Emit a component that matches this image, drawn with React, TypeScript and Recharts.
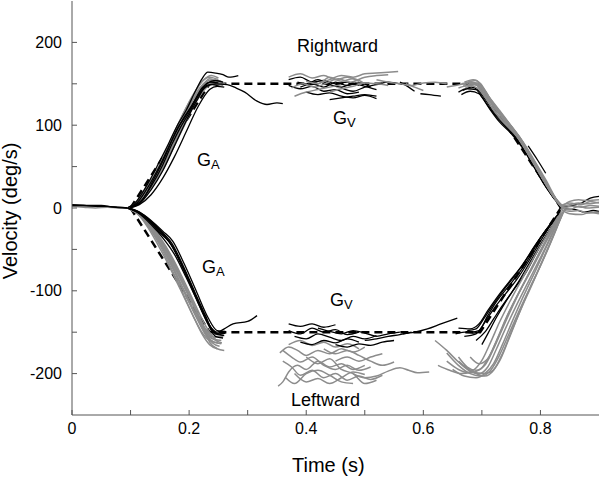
import { LineChart, Line, XAxis, YAxis } from 'recharts';

type Trace = [number, number][];

const xTicks = [0, 0.1, 0.2, 0.3, 0.4, 0.5, 0.6, 0.7, 0.8];
const yTicks = [-200, -150, -100, -50, 0, 50, 100, 150, 200];

// baseline before target onset
const preGray: Trace[] = [
  [[0, 2], [0.02, 1], [0.04, 0], [0.06, 1], [0.08, 0], [0.095, 0]],
  [[0, 3], [0.03, 2], [0.05, 2], [0.07, 1], [0.095, 0]],
];
const preBlack: Trace[] = [
  [[0, 3], [0.02, 3], [0.04, 2], [0.06, 2], [0.08, 1], [0.095, 0]],
  [[0, 4], [0.03, 3], [0.05, 3], [0.07, 1], [0.095, 0]],
];

// rightward, acceleration (G_A)
const rightAccelGray: Trace[] = [
  [[0.095, 0], [0.11, 6], [0.13, 25], [0.15, 48], [0.17, 78], [0.19, 108], [0.21, 135], [0.225, 150], [0.235, 156], [0.25, 152], [0.262, 150]],
  [[0.095, 0], [0.11, 5], [0.13, 22], [0.15, 44], [0.17, 72], [0.19, 102], [0.21, 130], [0.228, 148], [0.24, 152], [0.255, 150]],
  [[0.095, 0], [0.11, 7], [0.13, 28], [0.15, 52], [0.17, 84], [0.19, 114], [0.21, 140], [0.222, 153], [0.235, 158], [0.25, 155]],
  [[0.095, 0], [0.115, 8], [0.135, 30], [0.155, 56], [0.175, 88], [0.195, 116], [0.215, 142], [0.23, 152], [0.245, 150], [0.258, 148]],
  [[0.095, 0], [0.11, 4], [0.13, 20], [0.15, 40], [0.17, 68], [0.19, 97], [0.21, 126], [0.23, 146], [0.245, 153], [0.26, 151]],
  [[0.095, 0], [0.115, 7], [0.135, 27], [0.155, 51], [0.175, 80], [0.195, 110], [0.215, 137], [0.232, 150], [0.25, 149]],
  [[0.095, 0], [0.112, 6], [0.132, 26], [0.152, 50], [0.172, 80], [0.192, 110], [0.212, 137], [0.228, 152], [0.24, 155], [0.255, 153]],
  [[0.095, 0], [0.113, 5], [0.133, 23], [0.153, 46], [0.173, 74], [0.193, 104], [0.213, 133], [0.23, 149], [0.243, 151], [0.258, 149]],
  [[0.095, 0], [0.108, 5], [0.128, 24], [0.148, 49], [0.168, 80], [0.188, 111], [0.208, 138], [0.224, 154], [0.238, 160], [0.25, 157]],
];
const rightAccelBlack: Trace[] = [
  [[0.095, 0], [0.11, 8], [0.13, 30], [0.15, 57], [0.165, 78], [0.18, 100], [0.195, 118], [0.21, 140], [0.222, 156], [0.232, 164], [0.245, 163], [0.258, 161], [0.268, 158], [0.284, 160]],
  [[0.095, 0], [0.115, 5], [0.135, 22], [0.155, 45], [0.175, 75], [0.195, 105], [0.215, 132], [0.23, 148], [0.245, 150], [0.265, 149], [0.28, 145], [0.295, 140], [0.316, 129], [0.333, 125], [0.35, 127], [0.36, 126]],
  [[0.095, 0], [0.115, 4], [0.135, 16], [0.155, 36], [0.175, 62], [0.195, 92], [0.215, 122], [0.235, 143], [0.248, 147], [0.26, 146]],
  [[0.095, 0], [0.115, 6], [0.135, 26], [0.155, 52], [0.17, 76], [0.185, 97], [0.2, 115], [0.215, 135], [0.23, 150], [0.245, 154], [0.258, 152]],
  [[0.095, 0], [0.12, 10], [0.14, 35], [0.16, 64], [0.18, 96], [0.195, 112], [0.21, 130], [0.228, 146], [0.24, 149], [0.252, 147]],
  [[0.095, 0], [0.112, 7], [0.132, 28], [0.152, 54], [0.172, 84], [0.19, 108], [0.205, 124], [0.222, 145], [0.236, 152], [0.25, 151]],
];

// rightward, visual steady state (G_V)
const rightVisGray: Trace[] = [
  [[0.37, 158], [0.39, 162], [0.41, 157], [0.43, 160], [0.45, 155], [0.47, 158], [0.49, 153]],
  [[0.42, 150], [0.44, 155], [0.46, 160], [0.48, 158], [0.5, 162], [0.52, 163], [0.54, 164], [0.557, 165]],
  [[0.375, 145], [0.395, 150], [0.415, 146], [0.435, 151], [0.455, 156], [0.475, 152], [0.5, 158], [0.52, 160], [0.54, 161]],
  [[0.44, 140], [0.46, 144], [0.48, 147], [0.5, 151], [0.52, 150], [0.54, 148]],
  [[0.38, 135], [0.4, 140], [0.42, 143], [0.44, 146], [0.46, 149]],
  [[0.4, 153], [0.42, 150], [0.44, 158], [0.46, 153], [0.48, 156], [0.5, 150]],
  [[0.52, 155], [0.54, 152], [0.56, 150], [0.58, 148], [0.6, 151], [0.62, 152], [0.64, 150]],
  [[0.57, 150], [0.585, 146], [0.6, 142]],
  [[0.64, 146], [0.655, 148], [0.67, 150]],
];
const rightVisBlack: Trace[] = [
  [[0.37, 148], [0.39, 144], [0.41, 147], [0.43, 141], [0.45, 143], [0.47, 138], [0.49, 140]],
  [[0.385, 152], [0.4, 150], [0.42, 155], [0.44, 149], [0.46, 146], [0.48, 150], [0.5, 147], [0.52, 143]],
  [[0.4, 140], [0.42, 137], [0.44, 139], [0.46, 135], [0.48, 133], [0.5, 136], [0.52, 132]],
  [[0.44, 131], [0.46, 133], [0.48, 135], [0.5, 137], [0.52, 135]],
  [[0.37, 155], [0.39, 158], [0.41, 152], [0.43, 154], [0.45, 150], [0.47, 152], [0.49, 148]],
  [[0.39, 146], [0.41, 150], [0.43, 146], [0.45, 152], [0.47, 148], [0.49, 151], [0.51, 146]],
  [[0.46, 145], [0.48, 141], [0.5, 146], [0.52, 149], [0.54, 152], [0.56, 150]],
  [[0.56, 152], [0.575, 146], [0.585, 141]],
  [[0.595, 138], [0.61, 137], [0.63, 135]],
];

// rightward, deceleration
const rightDecelBlack: Trace[] = [
  [[0.66, 140], [0.675, 144], [0.69, 143], [0.7, 134], [0.715, 118], [0.73, 104], [0.75, 90], [0.77, 72], [0.79, 48], [0.81, 25], [0.83, 5]],
  [[0.665, 137], [0.68, 141], [0.695, 138], [0.71, 124], [0.725, 110], [0.745, 95], [0.765, 78], [0.785, 55], [0.805, 30], [0.825, 10]],
  [[0.668, 142], [0.682, 146], [0.694, 142], [0.707, 130], [0.72, 116], [0.738, 102], [0.758, 86], [0.778, 66], [0.798, 42], [0.818, 20], [0.833, 4]],
  [[0.779, 75], [0.795, 58], [0.809, 42]],
];
const rightDecelGray: Trace[] = [
  [[0.665, 150], [0.68, 152], [0.69, 150], [0.7, 140], [0.715, 124], [0.73, 110], [0.75, 96], [0.77, 76], [0.79, 52], [0.81, 28], [0.825, 12], [0.838, 2]],
  [[0.67, 147], [0.685, 150], [0.695, 146], [0.71, 132], [0.725, 117], [0.745, 100], [0.765, 82], [0.785, 58], [0.805, 34], [0.822, 14], [0.836, 1]],
  [[0.675, 152], [0.69, 154], [0.7, 146], [0.715, 128], [0.735, 111], [0.755, 92], [0.775, 70], [0.795, 46], [0.815, 22], [0.83, 6], [0.84, 0]],
  [[0.66, 145], [0.678, 148], [0.692, 145], [0.705, 134], [0.72, 118], [0.74, 101], [0.76, 86], [0.78, 64], [0.8, 40], [0.82, 17], [0.835, 2]],
  [[0.68, 150], [0.695, 148], [0.71, 136], [0.73, 118], [0.75, 99], [0.77, 80], [0.79, 57], [0.81, 33], [0.828, 10], [0.84, 1]],
  [[0.67, 152], [0.685, 155], [0.698, 150], [0.712, 134], [0.728, 118], [0.748, 101], [0.768, 82], [0.788, 58], [0.808, 33], [0.825, 12], [0.838, 1]],
  [[0.672, 145], [0.688, 149], [0.7, 144], [0.714, 130], [0.73, 114], [0.75, 97], [0.77, 78], [0.79, 54], [0.81, 30], [0.826, 11], [0.837, 2]],
  [[0.668, 148], [0.683, 152], [0.696, 149], [0.708, 137], [0.724, 120], [0.742, 104], [0.762, 88], [0.782, 64], [0.802, 38], [0.82, 17], [0.834, 3]],
  [[0.678, 150], [0.692, 151], [0.704, 143], [0.718, 128], [0.734, 113], [0.754, 95], [0.774, 74], [0.794, 50], [0.813, 26], [0.829, 8], [0.84, 0]],
];

// leftward, acceleration (G_A)
const leftAccelGray: Trace[] = [
  [[0.095, 0], [0.11, -5], [0.13, -18], [0.15, -38], [0.17, -62], [0.19, -92], [0.21, -122], [0.225, -146], [0.235, -162], [0.248, -170], [0.26, -172]],
  [[0.095, 0], [0.11, -6], [0.13, -20], [0.15, -42], [0.17, -68], [0.19, -98], [0.21, -127], [0.225, -148], [0.24, -158], [0.255, -160]],
  [[0.095, 0], [0.115, -8], [0.135, -25], [0.155, -48], [0.175, -76], [0.195, -105], [0.215, -133], [0.23, -150], [0.245, -156], [0.258, -155]],
  [[0.095, 0], [0.11, -4], [0.13, -16], [0.15, -35], [0.17, -58], [0.19, -86], [0.21, -116], [0.228, -142], [0.24, -155], [0.25, -162]],
  [[0.095, 0], [0.115, -7], [0.135, -22], [0.155, -45], [0.175, -72], [0.195, -100], [0.215, -128], [0.232, -152], [0.245, -160], [0.256, -163]],
  [[0.095, 0], [0.112, -6], [0.132, -19], [0.152, -40], [0.172, -65], [0.192, -95], [0.212, -125], [0.228, -150], [0.24, -163], [0.252, -167]],
  [[0.095, 0], [0.113, -7], [0.133, -23], [0.153, -46], [0.173, -74], [0.193, -104], [0.213, -133], [0.23, -155], [0.243, -162], [0.255, -164]],
  [[0.095, 0], [0.11, -5], [0.13, -17], [0.15, -37], [0.17, -60], [0.19, -89], [0.21, -119], [0.226, -144], [0.238, -152], [0.25, -153]],
  [[0.095, 0], [0.11, -6], [0.13, -22], [0.15, -45], [0.165, -66], [0.18, -88], [0.195, -112], [0.21, -135], [0.222, -152], [0.235, -165], [0.248, -170]],
  [[0.095, 0], [0.112, -7], [0.13, -24], [0.148, -46], [0.163, -66], [0.178, -88], [0.193, -110], [0.208, -132], [0.22, -148], [0.235, -160], [0.25, -163]],
];
const leftAccelBlack: Trace[] = [
  [[0.095, 0], [0.11, -4], [0.13, -14], [0.15, -30], [0.165, -40], [0.18, -58], [0.2, -88], [0.22, -120], [0.235, -142], [0.248, -150], [0.26, -146], [0.275, -140], [0.3, -137], [0.316, -130]],
  [[0.095, 0], [0.115, -6], [0.135, -18], [0.155, -32], [0.17, -45], [0.185, -65], [0.205, -95], [0.225, -128], [0.24, -147], [0.252, -152], [0.262, -151]],
  [[0.095, 0], [0.115, -5], [0.135, -16], [0.155, -30], [0.17, -42], [0.19, -70], [0.21, -102], [0.228, -130], [0.242, -150], [0.255, -153]],
  [[0.095, 0], [0.115, -7], [0.135, -20], [0.155, -36], [0.175, -56], [0.195, -84], [0.215, -114], [0.232, -140], [0.245, -155], [0.258, -157]],
  [[0.095, 0], [0.115, -6], [0.135, -17], [0.155, -31], [0.172, -47], [0.19, -74], [0.21, -106], [0.23, -136], [0.245, -152], [0.26, -154]],
  [[0.095, 0], [0.115, -5], [0.135, -15], [0.155, -28], [0.172, -40], [0.192, -68], [0.212, -100], [0.232, -132], [0.248, -148], [0.262, -149]],
];

// leftward, visual steady state (G_V)
const leftVisGray: Trace[] = [
  [[0.352, -215], [0.36, -210], [0.37, -198], [0.385, -190], [0.4, -195], [0.42, -185], [0.44, -192], [0.46, -188], [0.48, -195], [0.5, -190]],
  [[0.355, -175], [0.37, -168], [0.385, -172], [0.4, -178], [0.42, -172], [0.44, -176], [0.46, -170], [0.48, -174], [0.5, -168]],
  [[0.36, -185], [0.375, -192], [0.39, -202], [0.41, -196], [0.43, -205], [0.45, -200], [0.47, -208], [0.49, -203], [0.51, -207], [0.53, -202]],
  [[0.38, -200], [0.4, -210], [0.42, -206], [0.44, -212], [0.46, -205], [0.48, -198], [0.5, -201]],
  [[0.37, -165], [0.39, -160], [0.41, -166], [0.43, -162], [0.45, -168], [0.47, -164], [0.49, -170]],
  [[0.45, -185], [0.47, -180], [0.49, -185], [0.51, -180], [0.53, -176]],
  [[0.48, -200], [0.5, -205], [0.52, -203], [0.54, -197], [0.56, -193], [0.575, -196], [0.59, -199], [0.61, -198]],
  [[0.4, -180], [0.42, -188], [0.44, -182], [0.46, -195], [0.48, -200], [0.5, -212], [0.52, -208]],
  [[0.36, -172], [0.375, -180], [0.39, -186], [0.41, -180], [0.43, -190], [0.45, -195], [0.47, -190], [0.49, -196], [0.51, -192]],
  [[0.43, -170], [0.45, -176], [0.47, -172], [0.49, -178], [0.51, -185], [0.53, -190], [0.55, -186]],
  [[0.365, -205], [0.38, -212], [0.4, -200], [0.42, -196], [0.44, -202], [0.46, -210], [0.48, -212]],
];
const leftVisBlack: Trace[] = [
  [[0.37, -148], [0.39, -152], [0.41, -145], [0.43, -150], [0.45, -147], [0.47, -153], [0.49, -150]],
  [[0.38, -155], [0.4, -158], [0.42, -152], [0.44, -156], [0.46, -160], [0.48, -155], [0.5, -158], [0.52, -154]],
  [[0.39, -162], [0.41, -165], [0.43, -160], [0.45, -163], [0.47, -158], [0.49, -162]],
  [[0.42, -145], [0.44, -149], [0.46, -152], [0.48, -148], [0.5, -151], [0.52, -155], [0.54, -152], [0.56, -150]],
  [[0.45, -165], [0.47, -168], [0.49, -164], [0.51, -166], [0.53, -162], [0.55, -160]],
  [[0.37, -140], [0.39, -143], [0.41, -140], [0.43, -144], [0.45, -141]],
  [[0.5, -160], [0.52, -158], [0.54, -155], [0.56, -153], [0.58, -150]],
  [[0.565, -152], [0.585, -150], [0.607, -146], [0.63, -140], [0.658, -133]],
  [[0.655, -152], [0.67, -150], [0.685, -151], [0.697, -150]],
];

// leftward, deceleration
const leftDecelBlack: Trace[] = [
  [[0.68, -150], [0.695, -148], [0.71, -130], [0.726, -112], [0.745, -95], [0.766, -76], [0.785, -55], [0.8, -36], [0.818, -20], [0.834, -6]],
  [[0.67, -155], [0.69, -152], [0.705, -138], [0.72, -122], [0.74, -104], [0.76, -86], [0.78, -64], [0.8, -40], [0.82, -18], [0.835, -4]],
  [[0.69, -160], [0.705, -150], [0.72, -134], [0.735, -118], [0.755, -98], [0.775, -78], [0.795, -52], [0.815, -28], [0.832, -8]],
  [[0.7, -165], [0.71, -152], [0.725, -132], [0.74, -114], [0.76, -92], [0.78, -68], [0.8, -44], [0.82, -22]],
  [[0.66, -145], [0.68, -146], [0.695, -140], [0.71, -124], [0.73, -104], [0.75, -86], [0.77, -68], [0.79, -46], [0.81, -26], [0.83, -8]],
  [[0.675, -148], [0.69, -146], [0.703, -134], [0.718, -118], [0.736, -100], [0.756, -82], [0.776, -62], [0.796, -40], [0.816, -20], [0.833, -5]],
];
const leftDecelGray: Trace[] = [
  [[0.62, -160], [0.64, -172], [0.66, -186], [0.68, -197], [0.695, -200], [0.71, -192], [0.725, -170], [0.74, -146], [0.76, -116], [0.78, -88], [0.8, -60], [0.815, -38], [0.83, -15], [0.84, -3]],
  [[0.64, -175], [0.66, -190], [0.68, -200], [0.7, -203], [0.715, -196], [0.73, -178], [0.745, -154], [0.765, -122], [0.785, -92], [0.8, -70], [0.815, -46], [0.828, -24], [0.838, -6]],
  [[0.66, -180], [0.675, -192], [0.69, -196], [0.705, -190], [0.72, -170], [0.735, -146], [0.755, -115], [0.775, -86], [0.795, -58], [0.81, -38], [0.825, -18], [0.836, -4]],
  [[0.65, -195], [0.67, -203], [0.69, -205], [0.705, -200], [0.72, -188], [0.735, -165], [0.75, -140], [0.77, -108], [0.79, -78], [0.805, -55], [0.82, -32], [0.835, -8]],
  [[0.625, -190], [0.645, -196], [0.665, -200], [0.685, -196], [0.7, -184], [0.715, -162], [0.73, -138], [0.75, -110], [0.77, -84], [0.79, -58], [0.81, -34], [0.83, -10]],
  [[0.68, -180], [0.695, -188], [0.71, -182], [0.725, -160], [0.74, -135], [0.76, -106], [0.78, -80], [0.8, -52], [0.82, -26], [0.835, -6]],
  [[0.66, -185], [0.68, -196], [0.7, -200], [0.715, -198], [0.73, -185], [0.745, -160], [0.762, -130], [0.78, -100], [0.797, -74], [0.812, -50], [0.826, -26], [0.838, -6]],
  [[0.67, -190], [0.69, -200], [0.705, -203], [0.72, -196], [0.735, -176], [0.75, -150], [0.768, -120], [0.786, -92], [0.802, -66], [0.817, -42], [0.83, -20], [0.84, -4]],
  [[0.64, -185], [0.66, -195], [0.68, -199], [0.697, -195], [0.712, -180], [0.728, -156], [0.745, -128], [0.765, -100], [0.785, -74], [0.803, -50], [0.82, -27], [0.834, -7]],
];

// after the target stops
const tailGray: Trace[] = [
  [[0.835, 2], [0.85, 4], [0.865, 6], [0.88, 5], [0.9, 7]],
  [[0.838, 0], [0.855, 2], [0.87, 1], [0.885, 3], [0.9, 2]],
  [[0.836, -2], [0.85, -4], [0.865, -3], [0.88, -6], [0.9, -5]],
  [[0.835, 1], [0.85, 8], [0.865, 10], [0.88, 9], [0.9, 10]],
  [[0.834, -1], [0.85, -7], [0.87, -8], [0.885, -5], [0.9, -7]],
  [[0.836, 0], [0.85, -2], [0.865, 2], [0.88, 0], [0.9, 1]],
  [[0.835, 3], [0.85, 6], [0.87, 4], [0.885, 8], [0.9, 6]],
];
const tailBlack: Trace[] = [
  [[0.84, 1], [0.855, 3], [0.87, 6], [0.885, 12], [0.9, 14]],
  [[0.84, -1], [0.86, -2], [0.875, -5], [0.89, -3], [0.9, -4]],
];

// target velocity (dashed)
const targetRight: Trace = [[0.1, 0], [0.235, 150], [0.695, 150], [0.835, 0]];
const targetLeft: Trace = [[0.1, 0], [0.235, -150], [0.697, -150], [0.835, 0]];

const GRAY = '#8c8c8c';
const BLACK = '#000000';
const AXIS = '#555555';
const FONT = '"Liberation Sans", Arial, sans-serif';

const groups: { traces: Trace[]; color: string; dashed?: boolean }[] = [
  { traces: [targetRight, targetLeft], color: BLACK, dashed: true },
  { traces: preGray, color: GRAY },
  { traces: preBlack, color: BLACK },
  { traces: rightAccelGray, color: GRAY },
  { traces: rightAccelBlack, color: BLACK },
  { traces: leftAccelGray, color: GRAY },
  { traces: leftAccelBlack, color: BLACK },
  { traces: rightVisBlack, color: BLACK },
  { traces: rightVisGray, color: GRAY },
  { traces: leftVisGray, color: GRAY },
  { traces: leftVisBlack, color: BLACK },
  { traces: rightDecelBlack, color: BLACK },
  { traces: rightDecelGray, color: GRAY },
  { traces: leftDecelBlack, color: BLACK },
  { traces: leftDecelGray, color: GRAY },
  { traces: tailBlack, color: BLACK },
  { traces: tailGray, color: GRAY },
];

const toRows = (tr: Trace) => tr.map(([t, v]) => ({ t, v }));

const xLabel = (v: number) => (Math.round(v * 10) % 2 === 0 ? String(v) : '');
const yLabel = (v: number) => (v % 100 === 0 ? String(v) : '');

export default function App() {
  let n = 0;
  return (
    <div style={{ position: 'absolute', left: 0, top: 0, width: 600, height: 477, background: '#fff' }}>
      <LineChart width={600} height={477} margin={{ top: 1, right: 1, bottom: 0, left: 0 }}>
        <XAxis
          xAxisId="x"
          type="number"
          dataKey="t"
          domain={[0, 0.9]}
          ticks={xTicks}
          tickFormatter={xLabel}
          allowDataOverflow
          height={62}
          tickSize={-5}
          tickMargin={13}
          stroke={AXIS}
          tick={{ fill: '#000', fontSize: 16, fontFamily: FONT }}
        />
        <XAxis
          xAxisId="top"
          orientation="top"
          type="number"
          domain={[0, 0.9]}
          ticks={xTicks}
          height={0}
          tickSize={-5}
          tick={false}
          stroke={AXIS}
        />
        <YAxis
          yAxisId="y"
          type="number"
          domain={[-250, 250]}
          ticks={yTicks}
          tickFormatter={yLabel}
          allowDataOverflow
          width={72}
          tickSize={-5}
          tickMargin={15}
          stroke={AXIS}
          tick={{ fill: '#000', fontSize: 16, fontFamily: FONT }}
        />
        <YAxis
          yAxisId="right"
          orientation="right"
          type="number"
          domain={[-250, 250]}
          ticks={yTicks}
          width={0}
          tickSize={-5}
          tick={false}
          stroke={AXIS}
        />
        {groups.flatMap((g) =>
          g.traces.map((tr) => {
            n += 1;
            return (
              <Line
                key={'s' + n}
                xAxisId="x"
                yAxisId="y"
                data={toRows(tr)}
                dataKey="v"
                type={g.dashed ? 'linear' : 'monotone'}
                stroke={g.color}
                strokeWidth={g.dashed ? 2.5 : g.color === GRAY ? 1.5 : 1.3}
                strokeDasharray={g.dashed ? '8 5' : undefined}
                dot={false}
                activeDot={false}
                isAnimationActive={false}
              />
            );
          })
        )}
      </LineChart>
      <svg width={600} height={477} style={{ position: 'absolute', left: 0, top: 0, pointerEvents: 'none' }} fontFamily={FONT}>
        <text x={297} y={52} fontSize={18}>Rightward</text>
        <text x={291} y={406} fontSize={18}>Leftward</text>
        <text x={197} y={166} fontSize={18}>G<tspan fontSize={13} dy={3}>A</tspan></text>
        <text x={202} y={273} fontSize={18}>G<tspan fontSize={13} dy={3}>A</tspan></text>
        <text x={333} y={124} fontSize={18}>G<tspan fontSize={13} dy={3}>V</tspan></text>
        <text x={330} y={306} fontSize={18}>G<tspan fontSize={13} dy={3}>V</tspan></text>
        <text x={292} y={472} fontSize={20}>Time (s)</text>
        <text x={17} y={211} fontSize={20} textAnchor="middle" transform="rotate(-90 17 211)">Velocity (deg/s)</text>
      </svg>
    </div>
  );
}
